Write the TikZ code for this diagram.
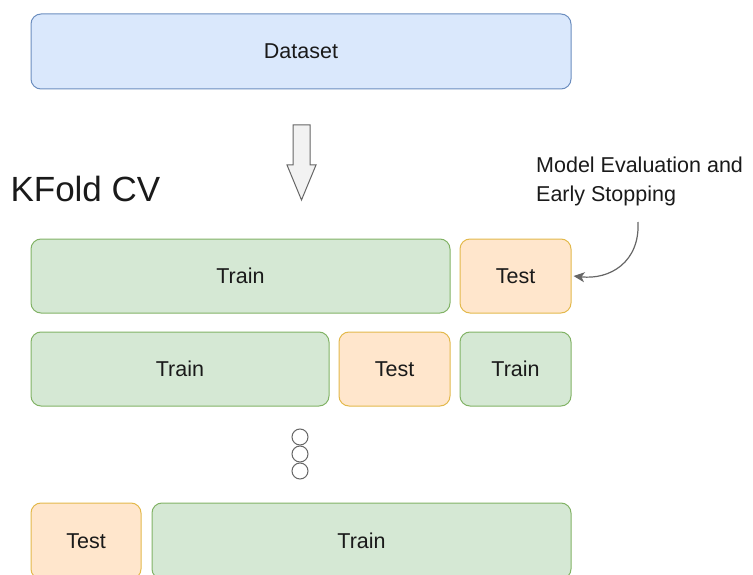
\documentclass[tikz,border=0pt]{standalone}
\usepackage{fontspec}
\setmainfont{Liberation Sans}
\usetikzlibrary{arrows.meta}
\definecolor{bluefill}{HTML}{DAE8FC}
\definecolor{bluedraw}{HTML}{6C8EBF}
\definecolor{greenfill}{HTML}{D5E8D4}
\definecolor{greendraw}{HTML}{82B366}
\definecolor{orangefill}{HTML}{FFE6CC}
\definecolor{orangedraw}{HTML}{D79B00}
\definecolor{txt}{HTML}{1A1A1A}
\definecolor{grayline}{HTML}{666666}
\tikzset{
  boxbase/.style={rectangle, rounded corners=10pt, line width=1pt, inner sep=0pt, font=\fontsize{21.5}{25}\selectfont, text=txt},
  databox/.style={boxbase, fill=bluefill, draw=bluedraw},
  trainbox/.style={boxbase, fill=greenfill, draw=greendraw},
  testbox/.style={boxbase, fill=orangefill, draw=orangedraw!70},
  dot/.style={circle, draw=grayline, fill=white, line width=1pt, minimum size=16pt, inner sep=0pt},
}
\begin{document}
\begin{tikzpicture}[x=1pt,y=-1pt]
\useasboundingbox (0,0) rectangle (753,575);
% dataset
\node[databox, minimum width=540pt, minimum height=75pt] (dataset) at (301,51.5) {Dataset};
% block arrow
\draw[grayline, fill=white!95!black, line width=1pt, line join=miter]
  (293,125) -- (310,125) -- (310,165) -- (316,165) -- (301.5,200) -- (287,165) -- (293,165) -- cycle;
% title
\node[anchor=west, font=\fontsize{35}{40}\selectfont, text=txt] (title) at (7,189) {KFold CV};
% row 1
\node[trainbox, minimum width=419pt, minimum height=74pt] (tr1) at (240.5,276) {Train};
\node[testbox, minimum width=111pt, minimum height=74pt] (te1) at (515.5,276) {Test};
% row 2
\node[trainbox, minimum width=298pt, minimum height=74pt] (tr2a) at (180,369) {Train};
\node[testbox, minimum width=111pt, minimum height=74pt] (te2) at (394.5,369) {Test};
\node[trainbox, minimum width=111pt, minimum height=74pt] (tr2b) at (515.5,369) {Train};
% dots
\node[dot] (d1) at (300,437) {};
\node[dot] (d2) at (300,454) {};
\node[dot] (d3) at (300,471) {};
% row 3
\node[testbox, minimum width=110pt, minimum height=76pt] (te3) at (86,541) {Test};
\node[trainbox, minimum width=419pt, minimum height=76pt] (tr3) at (361.5,541) {Train};
% annotation
\node[anchor=north west, align=left, font=\fontsize{21.5}{29}\selectfont, text=txt, inner sep=0pt] (ann) at (536,157) {Model Evaluation and\\Early Stopping};
\coordinate (annend) at (638,222);
\draw[grayline, line width=1.2pt, -{Stealth[length=11pt,width=10pt,inset=3pt]}] (annend) .. controls (640,262) and (610,280) .. ([xshift=2pt]te1.east);
\end{tikzpicture}
\end{document}
